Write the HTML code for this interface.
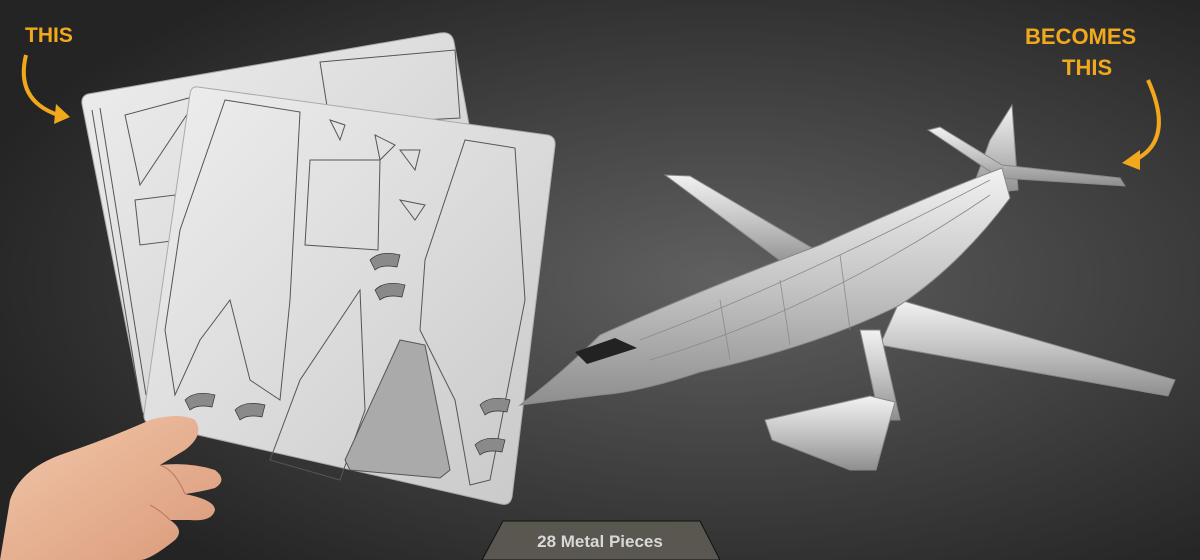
<!DOCTYPE html>
<html><head><meta charset="utf-8"><style>
html,body{margin:0;padding:0;width:1200px;height:560px;overflow:hidden;background:#2a2a2a;}
svg{display:block}
</style></head><body>
<svg width="1200" height="560" viewBox="0 0 1200 560" xmlns="http://www.w3.org/2000/svg">
<defs>
<radialGradient id="bg" cx="0.6" cy="0.5" r="0.65">
<stop offset="0" stop-color="#606060"/><stop offset="0.6" stop-color="#3c3c3c"/><stop offset="1" stop-color="#242424"/>
</radialGradient>
<linearGradient id="sheet" x1="0" y1="0" x2="1" y2="1">
<stop offset="0" stop-color="#eeeeee"/><stop offset="0.5" stop-color="#dcdcdc"/><stop offset="1" stop-color="#c8c8c8"/>
</linearGradient>
<linearGradient id="metal" x1="0" y1="0" x2="0" y2="1">
<stop offset="0" stop-color="#f2f2f2"/><stop offset="0.5" stop-color="#c4c4c4"/><stop offset="1" stop-color="#8e8e8e"/>
</linearGradient>
<linearGradient id="skin" x1="0" y1="0" x2="1" y2="1">
<stop offset="0" stop-color="#f3c7aa"/><stop offset="1" stop-color="#d99a7a"/>
</linearGradient>
</defs>
<rect width="1200" height="560" fill="url(#bg)"/>

<!-- back sheet -->
<path d="M88,94 L440,33 Q452,31 454,42 L470,130 L150,420 L143,412 L82,104 Q81,96 88,94 Z" fill="url(#sheet)" stroke="#aaa"/>
<g stroke="#555" fill="none" stroke-width="1">
<path d="M92,110 L140,400"/><path d="M100,108 L146,395"/>
<path d="M125,115 L200,95 L140,185 Z"/>
<path d="M320,62 L455,50 L460,118 L330,125 Z"/>
<path d="M135,200 L175,195 L180,240 L140,245 Z"/>
</g>
<!-- front sheet -->
<path d="M198,87 L548,135 Q556,137 555,146 L512,497 Q510,506 501,504 L150,424 Q143,422 144,413 L190,94 Q191,86 198,87 Z" fill="url(#sheet)" stroke="#aaa"/>
<g stroke="#555" fill="none" stroke-width="1">
<path d="M225,100 L300,112 L290,300 L280,400 L250,380 L230,300 L200,340 L175,395 L165,330 L180,230 Z"/>
<path d="M310,160 L380,160 L378,250 L305,245 Z"/>
<path d="M465,140 L515,148 L525,300 L490,480 L470,485 L455,400 L420,330 L425,260 Z"/>
<path d="M360,290 L300,380 L270,460 L340,480 L365,410 Z"/>
<path d="M400,340 L425,345 L450,470 L440,478 L350,470 L345,460 Z" fill="#aaa"/>
<path d="M375,135 l20,10 l-15,15 z M400,200 l25,5 l-10,15 z M330,120 l15,5 l-5,15z M400,150 l20,0 l-5,20z"/>
</g>
<g fill="#8a8a8a" stroke="#333" stroke-width="0.7">
<path d="M370,260 q10,-10 30,-5 l-3,12 q-15,-3 -22,3z"/>
<path d="M375,290 q10,-10 30,-5 l-3,12 q-15,-3 -22,3z"/>
<path d="M185,400 q10,-10 30,-5 l-3,12 q-15,-3 -22,3z"/>
<path d="M235,410 q10,-10 30,-5 l-3,12 q-15,-3 -22,3z"/>
<path d="M480,405 q10,-10 30,-5 l-3,12 q-15,-3 -22,3z"/>
<path d="M475,445 q10,-10 30,-5 l-3,12 q-15,-3 -22,3z"/>
</g>

<!-- hand -->
<path d="M0,560 L10,500 Q20,470 60,455 Q110,438 150,420 Q180,412 195,420 Q205,435 185,450 L160,465 Q190,462 215,470 Q228,480 215,488 Q200,492 185,494 Q215,500 215,510 Q212,522 190,520 L170,520 Q185,530 175,540 Q150,560 140,560 Z" fill="url(#skin)"/>
<path d="M160,465 Q175,470 185,494 M170,520 Q160,510 150,505" stroke="#b97a5c" fill="none"/>

<!-- airplane -->
<g fill="url(#metal)" stroke="#888" stroke-width="1">
<polygon points="990,140 1012,105 1018,190 970,195"/>
<polygon points="928,130 1000,178 1125,186 1120,178 1002,165 940,127"/>
<polygon points="665,175 690,176 812,248 790,268"/>
<polygon points="900,300 1175,380 1168,396 880,345"/>
<polygon points="860,330 880,330 900,420 880,420"/>
<path d="M765,420 L870,396 L895,402 L876,470 L850,470 L772,440 Z"/>
<path d="M520,405 Q560,375 600,335 Q700,290 820,245 Q930,195 1002,168 L1010,198 Q960,265 900,305 Q820,345 700,372 Q640,392 600,395 Z"/>
</g>
<path d="M575,352 l40,-14 l22,10 l-50,16 z" fill="#222"/>
<g stroke="#8a8a8a" fill="none" stroke-width="0.8">
<path d="M640,340 Q800,280 990,180"/><path d="M650,360 Q820,310 990,195"/>
<path d="M720,300 L730,360 M780,280 L790,345 M840,255 L850,330"/>
</g>

<!-- labels -->
<g font-family="Liberation Sans, sans-serif" font-weight="bold" fill="#f2a81d">
<text x="25" y="42" font-size="21">THIS</text>
<text x="1025" y="44" font-size="22">BECOMES</text>
<text x="1062" y="75" font-size="22">THIS</text>
</g>
<path d="M26,55 Q15,100 58,115" stroke="#f2a81d" stroke-width="4" fill="none"/>
<polygon points="56,104 70,117 54,124" fill="#f2a81d"/>
<path d="M1148,80 Q1175,140 1135,160" stroke="#f2a81d" stroke-width="4" fill="none"/>
<polygon points="1140,150 1122,163 1140,170" fill="#f2a81d"/>

<!-- bottom tab -->
<polygon points="503,521 700,521 720,560 482,560" fill="#5a5650" stroke="#111" stroke-width="1"/>
<text x="600" y="547" text-anchor="middle" font-family="Liberation Sans, sans-serif" font-weight="bold" font-size="17" fill="#d8d8d8">28 Metal Pieces</text>
</svg>
</body></html>
